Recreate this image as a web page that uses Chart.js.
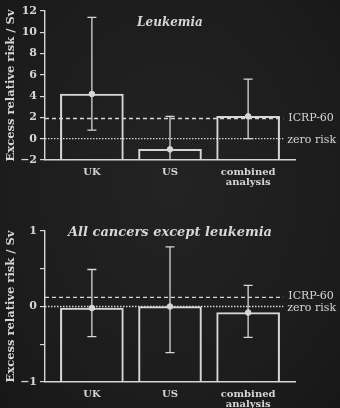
<!DOCTYPE html>
<html>
<head>
<meta charset="utf-8">
<script src="https://cdn.jsdelivr.net/npm/chart.js@4"></script>
<style>
  html, body { margin: 0; padding: 0; background: #1c1c1c; }
  body { width: 340px; height: 408px; position: relative; overflow: hidden;
         background: radial-gradient(ellipse at 50% 45%, #232323 0%, #1c1c1c 70%, #171717 100%); }
  .wrap { position: absolute; left: 0; width: 340px; }
</style>
</head>
<body>
<div class="wrap" style="top:0;height:200px"><canvas id="leukChart"></canvas></div>
<div class="wrap" style="top:200px;height:208px"><canvas id="solidChart"></canvas></div>
<script>
// categories shared by both panels
const categories = ['UK', 'US', ['combined', 'analysis']];

// Leukemia panel
const leukValues = [4.2, -1.0, 2.1];
const leukUpper = [11.4, 2.1, 5.6];
const leukLower = [0.8, -2.6, 0.0];
const leukIcrp = 1.9;

// All cancers except leukemia panel
const solidValues = [-0.02, 0.0, -0.08];
const solidUpper = [0.49, 0.79, 0.28];
const solidLower = [-0.40, -0.61, -0.41];
const solidIcrp = 0.12;

const ink = '#d6d6d6';

// error bars + reference lines + panel title
const overlayPlugin = {
    id: 'overlayPlugin',
    afterDatasetsDraw: (chart) => {
        const ctx = chart.ctx;
        const opts = chart.options.plugins.overlayPlugin;
        const xs = chart.scales.x;
        const ys = chart.scales.y;
        const { left, right, top, bottom } = chart.chartArea;

        ctx.save();
        ctx.strokeStyle = ink;
        ctx.fillStyle = ink;
        ctx.lineWidth = 1.3;

        // reference lines
        const lineEnd = xs.getPixelForValue(3.45);
        const yIcrp = ys.getPixelForValue(opts.icrp);
        const yZero = ys.getPixelForValue(0);
        ctx.setLineDash([4, 3]);
        ctx.beginPath();
        ctx.moveTo(left, yIcrp);
        ctx.lineTo(lineEnd, yIcrp);
        ctx.stroke();
        ctx.setLineDash([1.5, 1.5]);
        ctx.beginPath();
        ctx.moveTo(left, yZero);
        ctx.lineTo(lineEnd, yZero);
        ctx.stroke();
        ctx.setLineDash([]);

        ctx.font = '11px "DejaVu Serif"';
        ctx.textAlign = 'left';
        ctx.textBaseline = 'middle';
        ctx.fillText('ICRP-60', lineEnd + 5, yIcrp + opts.labelShift[0]);
        ctx.fillText('zero risk', lineEnd + 4, yZero + opts.labelShift[1]);

        // error bars, clipped to the plot
        ctx.save();
        ctx.beginPath();
        ctx.rect(left, top, right - left, bottom - top);
        ctx.clip();
        opts.upper.forEach((hi, i) => {
            const x = xs.getPixelForValue(i + 1);
            const yHi = ys.getPixelForValue(hi);
            const yLo = ys.getPixelForValue(opts.lower[i]);
            ctx.beginPath();
            ctx.moveTo(x, yHi);
            ctx.lineTo(x, yLo);
            ctx.moveTo(x - 4.5, yHi);
            ctx.lineTo(x + 4.5, yHi);
            ctx.moveTo(x - 4.5, yLo);
            ctx.lineTo(x + 4.5, yLo);
            ctx.stroke();
        });
        ctx.restore();

        // title
        ctx.font = 'italic bold ' + opts.titleSize + 'px "DejaVu Serif"';
        ctx.textAlign = 'center';
        ctx.fillText(opts.title, (left + right) / 2, top + opts.titleOffset);
        ctx.restore();
    }
};

function makeChart(id, values, upper, lower, icrp, yMin, yMax, step, title, titleSize, titleOffset, labelShift, xHeight, topPad, labelFn) {
    const bars = values.map((v, i) => ({ x: i + 1, y: v }));
    return new Chart(document.getElementById(id).getContext('2d'), {
        type: 'bar',
        data: {
            datasets: [{
                type: 'line',
                data: bars,
                showLine: false,
                pointRadius: 2.8,
                pointBackgroundColor: ink,
                pointBorderColor: ink,
                order: 0
            }, {
                data: bars,
                base: yMin,
                backgroundColor: 'rgba(0,0,0,0)',
                borderColor: ink,
                borderWidth: 1.4,
                barThickness: 63,
                order: 1
            }]
        },
        options: {
            responsive: true,
            maintainAspectRatio: false,
            animation: false,
            layout: { padding: { top: topPad, right: 45, left: 0, bottom: 0 } },
            scales: {
                x: {
                    type: 'linear',
                    offset: false,
                    min: 0.4,
                    max: 3.6,
                    grid: { display: false, drawTicks: false },
                    border: { display: true, color: ink, width: 1.4 },
                    afterBuildTicks: (axis) => { axis.ticks = [{ value: 1 }, { value: 2 }, { value: 3 }]; },
                    afterFit: (axis) => { axis.height = xHeight; },
                    ticks: {
                        color: ink,
                        font: { family: 'DejaVu Serif', size: 10, weight: 'bold', lineHeight: 1.05 },
                        padding: 7,
                        maxRotation: 0,
                        autoSkip: false,
                        callback: (v) => categories[v - 1]
                    }
                },
                y: {
                    min: yMin,
                    max: yMax,
                    grid: { drawOnChartArea: false, drawTicks: true, tickLength: 5, color: ink, lineWidth: 1.2 },
                    border: { display: true, color: ink, width: 1.4 },
                    afterFit: (axis) => { axis.width = 45; },
                    ticks: {
                        stepSize: step,
                        color: ink,
                        font: { family: 'DejaVu Serif', size: 11, weight: 'bold' },
                        padding: 3,
                        callback: labelFn
                    },
                    title: {
                        display: true,
                        text: 'Excess relative risk / Sv',
                        color: ink,
                        font: { family: 'DejaVu Serif', size: 11.5, weight: 'bold' },
                        padding: { top: 4, bottom: 0 }
                    }
                }
            },
            plugins: {
                legend: { display: false },
                tooltip: { enabled: false },
                overlayPlugin: { upper: upper, lower: lower, icrp: icrp, title: title, titleSize: titleSize, titleOffset: titleOffset, labelShift: labelShift }
            }
        },
        plugins: [overlayPlugin]
    });
}

const fmt = (v) => (v < 0 ? '\u2212' + Math.abs(v) : String(v));

makeChart('leukChart', leukValues, leukUpper, leukLower, leukIcrp, -2, 12, 2,
    'Leukemia', 12, 12, [0, 1], 40, 11, (v) => fmt(v));
makeChart('solidChart', solidValues, solidUpper, solidLower, solidIcrp, -1, 1, 0.5,
    'All cancers except leukemia', 13, 2, [-1, 2], 26, 31, (v) => (Number.isInteger(v) ? fmt(v) : ''));
</script>
</body>
</html>
